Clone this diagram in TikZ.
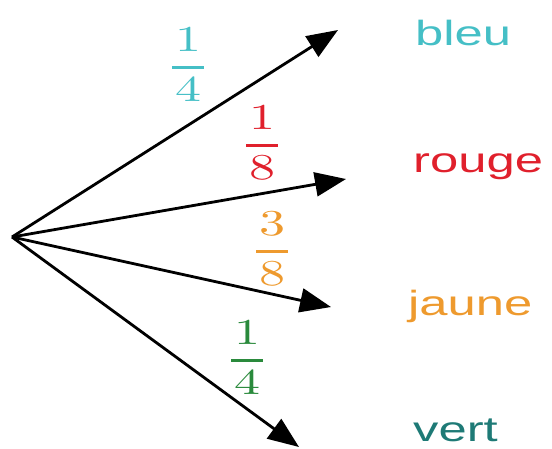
\documentclass[tikz,border=0pt]{standalone}
\usepackage{fontspec}
\usepackage{amsmath}
\usetikzlibrary{arrows.meta}
\newfontfamily\labfont{Liberation Sans}
\definecolor{cbleu}{HTML}{45BFC6}
\definecolor{crouge}{HTML}{E0202C}
\definecolor{cjaune}{HTML}{EE9A2E}
\definecolor{cvert}{HTML}{1E7A76}
\definecolor{cgreen}{HTML}{2A8A3C}
\tikzset{
  branch/.style={line width=2.8pt, -{Triangle[length=31pt,width=24pt]}},
  outcome/.style={anchor=base west, inner sep=0pt, font=\labfont\fontsize{35}{40}\selectfont},
  prob/.style={inner sep=0pt}
}
\newcommand{\hs}[1]{\scalebox{1.45}[1]{#1}}
\newcommand{\fr}[2]{\scalebox{5.2}[3.65]{$\genfrac{}{}{0.75pt}{0}{\kern0.5pt#1\kern0.5pt}{\kern0.5pt#2\kern0.5pt}$}}
\begin{document}
\begin{tikzpicture}[x=1pt,y=-1pt]
\useasboundingbox (0,0) rectangle (552,448);
\coordinate (O) at (12,237);
\coordinate (tb) at (338,30);
\coordinate (tr) at (346,179);
\coordinate (tj) at (331,307);
\coordinate (tv) at (299,447);
\draw[branch] (O) -- (tb);
\draw[branch] (O) -- (tr);
\draw[branch] (O) -- (tj);
\draw[branch] (O) -- (tv);
\node[outcome, text=cbleu] (lb) at (415,45) {\hs{bleu}};
\node[outcome, text=crouge] (lr) at (413,172) {\hs{rouge}};
\node[outcome, text=cjaune] (lj) at (408,315) {\hs{jaune}};
\node[outcome, text=cvert] (lv) at (413,441) {\hs{vert}};
\node[prob, text=cbleu] (pb) at (188,65) {\fr{1}{4}};
\node[prob, text=crouge] (pr) at (262,143) {\fr{1}{8}};
\node[prob, text=cjaune] (pj) at (272,249) {\fr{3}{8}};
\node[prob, text=cgreen] (pv) at (247,358) {\fr{1}{4}};
\end{tikzpicture}
\end{document}
